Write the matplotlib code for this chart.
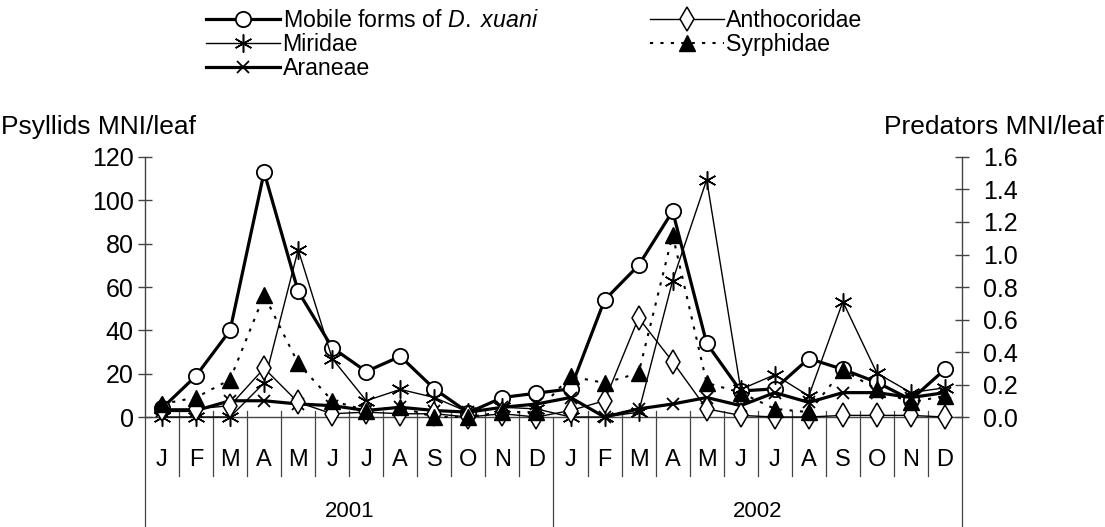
import numpy as np
import matplotlib
matplotlib.use("Agg")
from matplotlib import pyplot as plt
from matplotlib.transforms import blended_transform_factory

plt.rcParams['font.family'] = ['Liberation Sans', 'DejaVu Sans']
plt.rcParams['mathtext.fontset'] = 'custom'
plt.rcParams['mathtext.rm'] = 'Liberation Sans'
plt.rcParams['mathtext.it'] = 'Liberation Sans:italic'

months = ['J', 'F', 'M', 'A', 'M', 'J', 'J', 'A', 'S', 'O', 'N', 'D'] * 2
years = ['2001', '2002']

# psyllids, left axis
mobile = [4, 19, 40, 113, 58, 32, 21, 28, 13, 2, 9, 11,
          13, 54, 70, 95, 34, 12, 13, 27, 22, 16, 8, 22]

# predators, right axis
anthocoridae = [0.05, 0.05, 0.07, 0.30, 0.09, 0.02, 0.03, 0.02, 0.02, 0.0, 0.02, 0.0,
                0.04, 0.10, 0.61, 0.34, 0.05, 0.01, 0.0, 0.0, 0.01, 0.01, 0.01, 0.0]
miridae = [0.0, 0.0, 0.0, 0.21, 1.03, 0.36, 0.10, 0.17, 0.12, 0.03, 0.06, 0.05,
           0.0, 0.0, 0.03, 0.84, 1.46, 0.17, 0.26, 0.13, 0.71, 0.27, 0.15, 0.18]
syrphidae = [0.08, 0.12, 0.23, 0.75, 0.33, 0.10, 0.04, 0.06, 0.0, 0.0, 0.03, 0.03,
             0.25, 0.21, 0.27, 1.12, 0.21, 0.15, 0.05, 0.03, 0.29, 0.17, 0.09, 0.13]
araneae = [0.04, 0.04, 0.10, 0.10, 0.08, 0.07, 0.04, 0.06, 0.04, 0.03, 0.06, 0.08,
           0.12, 0.0, 0.05, 0.08, 0.12, 0.07, 0.15, 0.09, 0.15, 0.15, 0.12, 0.15]

x = np.arange(len(months))

fig = plt.figure(figsize=(11.05, 5.27), dpi=100)
ax = fig.add_axes([0.1312, 0.2087, 0.7394, 0.4934])
ax2 = ax.twinx()

fs = 18
axcol = '#444444'

l1, = ax.plot(x, mobile, color='black', lw=2.3, marker='o', ms=11,
              mfc='white', mec='black', mew=1.3, clip_on=False, zorder=3,
              label=r'Mobile forms of $\mathit{D.\ xuani}$')
l2, = ax2.plot(x, miridae, color='black', lw=1.0, marker=(6, 2, 0), ms=13,
               mew=1.1, clip_on=False, label='Miridae')
l3, = ax2.plot(x, araneae, color='black', lw=2.3, marker='x', ms=8,
               mew=1.3, clip_on=False, label='Araneae')
l4, = ax2.plot(x, anthocoridae, color='black', lw=1.0, marker='d', ms=12,
               mfc='white', mec='black', mew=1.1, clip_on=False, label='Anthocoridae')
l5, = ax2.plot(x, syrphidae, color='black', lw=1.5, ls=(0, (1.5, 3.5)), marker='^',
               ms=11, mfc='black', mec='black', clip_on=False, label='Syrphidae')

ax.set_xlim(-0.5, len(months) - 0.5)
ax.set_ylim(0, 120)
ax2.set_ylim(0, 1.6)
ax.set_yticks(np.arange(0, 121, 20))
ax2.set_yticks(np.arange(0, 1.61, 0.2))
ax2.set_yticklabels(['%.1f' % v for v in np.arange(0, 1.61, 0.2)])

for a in (ax, ax2):
    a.spines['top'].set_visible(False)
    for s in a.spines.values():
        s.set_color(axcol)
        s.set_linewidth(1.0)
ax.spines['right'].set_visible(False)
ax2.spines['left'].set_visible(False)
ax2.spines['bottom'].set_visible(False)

ax.tick_params(axis='y', direction='inout', length=10, width=1, color=axcol,
               labelsize=fs, pad=3)
ax2.tick_params(axis='y', direction='inout', length=10, width=1, color=axcol,
                labelsize=fs, pad=10)
ax.set_xticks([])

# month and year separators below the axis
trans = blended_transform_factory(ax.transData, ax.transAxes)
for b in np.arange(0.5, len(months) - 1, 1.0):
    if b == 11.5:
        continue
    ax.plot([b, b], [0.025, -0.225], transform=trans, color=axcol, lw=0.9,
            clip_on=False, zorder=1)
for b in (-0.5, 11.5, 23.5):
    ax.plot([b, b], [0.0, -0.43], transform=trans, color=axcol, lw=0.9,
            clip_on=False, zorder=1)
for i, m in enumerate(months):
    ax.text(i, -0.165, m, transform=trans, ha='center', va='center', fontsize=17,
            family=['Liberation Sans Narrow', 'Liberation Sans'])
for j, yr in enumerate(years):
    ax.text(j * 12 + 5.5, -0.365, yr, transform=trans, ha='center', va='center',
            fontsize=16)

fig.text(0.001, 0.759, 'Psyllids MNI/leaf', ha='left', va='center', fontsize=19)
fig.text(0.999, 0.759, 'Predators MNI/leaf', ha='right', va='center', fontsize=19)

fig.legend(handles=[l1, l2, l3, l4, l5], ncol=2, loc='upper left',
           bbox_to_anchor=(206 / 1105, 1 - 9 / 527), bbox_transform=fig.transFigure,
           frameon=False, fontsize=16.7, handlelength=3.2, handletextpad=0.1,
           labelspacing=0.05, columnspacing=4.8, borderpad=0, borderaxespad=0,
           numpoints=1)

fig.savefig('out.png', dpi=100)
